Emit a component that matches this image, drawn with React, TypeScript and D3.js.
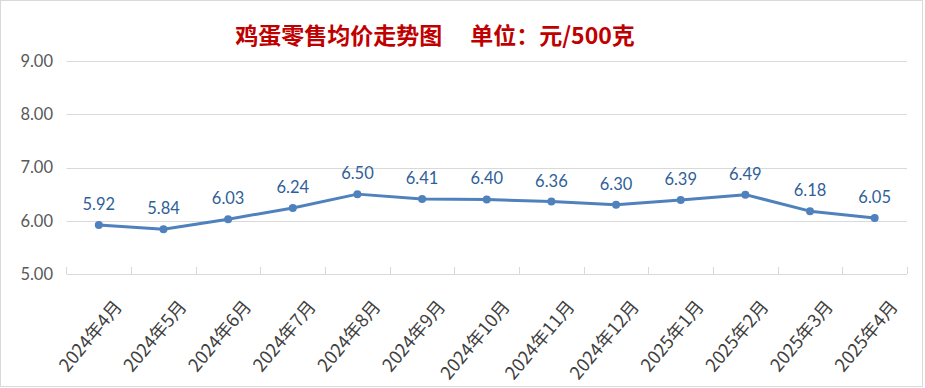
import React from "react";
import * as d3 from "d3";

const categories = [
  "2024年4月", "2024年5月", "2024年6月", "2024年7月", "2024年8月", "2024年9月",
  "2024年10月", "2024年11月", "2024年12月", "2025年1月", "2025年2月", "2025年3月", "2025年4月",
];
const prices = [5.92, 5.84, 6.03, 6.24, 6.5, 6.41, 6.4, 6.36, 6.3, 6.39, 6.49, 6.18, 6.05];
const yTicks = [5, 6, 7, 8, 9];
const title = "鸡蛋零售均价走势图";
const unitText = "单位：元/500克";

const W = 925;
const H = 388;
const plot = { left: 66.5, right: 907, top: 61, bottom: 274 };

export default function App() {
  const x = d3
    .scaleBand<string>()
    .domain(categories)
    .range([plot.left, plot.right])
    .paddingInner(0)
    .paddingOuter(0);
  const y = d3.scaleLinear().domain([5, 9]).range([plot.bottom, plot.top]);
  const cx = (c: string) => (x(c) as number) + x.bandwidth() / 2;
  const line = d3
    .line<number>()
    .x((_, i) => cx(categories[i]))
    .y((d) => y(d));
  const tickXs = categories.map((c) => x(c) as number).concat([plot.right]);
  const numFont = "Lato, 'Noto Sans', sans-serif";
  const cjkFont = "'Noto Sans CJK SC', sans-serif";

  return (
    <div style={{ position: "absolute", left: 0, top: 0 }}>
      <svg width={W} height={H} style={{ display: "block" }}>
        <rect x={0} y={0} width={W} height={H} fill="#fff" />
        <rect x={0.5} y={0.5} width={922} height={386} fill="none" stroke="#D9D9D9" strokeWidth={1} />
        <text
          x={435}
          y={44}
          textAnchor="middle"
          fill="#C00000"
          fontFamily={cjkFont}
          fontWeight={700}
          fontSize={23}
        >
          {title}
          <tspan dx={28}>{unitText}</tspan>
        </text>
        {yTicks.map((t) => (
          <g key={t}>
            <line
              x1={plot.left}
              x2={plot.right}
              y1={Math.round(y(t)) + 0.5}
              y2={Math.round(y(t)) + 0.5}
              stroke="#D9D9D9"
              strokeWidth={1}
            />
            <text
              x={53}
              y={y(t)}
              dy="0.36em"
              textAnchor="end"
              fill="#595959"
              fontFamily={numFont}
              fontSize={16.5}
            >
              {t.toFixed(2)}
            </text>
          </g>
        ))}
        {tickXs.map((tx, i) => (
          <line
            key={i}
            x1={Math.round(tx) + 0.5}
            x2={Math.round(tx) + 0.5}
            y1={plot.bottom - 7}
            y2={plot.bottom}
            stroke="#D9D9D9"
            strokeWidth={1}
          />
        ))}
        <path d={line(prices) || ""} fill="none" stroke="#4F81BD" strokeWidth={3} strokeLinejoin="round" />
        {prices.map((p, i) => (
          <circle key={i} cx={cx(categories[i])} cy={y(p)} r={4} fill="#4F81BD" />
        ))}
        {prices.map((p, i) => (
          <text
            key={"l" + i}
            x={cx(categories[i])}
            y={y(p) - 15}
            textAnchor="middle"
            fill="#2F5F98"
            fontFamily={numFont}
            fontSize={16.5}
          >
            {p.toFixed(2)}
          </text>
        ))}
        {categories.map((c) => {
          const ax = cx(c) + 18;
          const ay = 302;
          return (
            <text
              key={c}
              transform={`translate(${ax},${ay}) rotate(-50)`}
              textAnchor="end"
              dominantBaseline="central"
              fill="#404040"
              fontFamily={cjkFont}
              fontSize={18}
            >
              {c}
            </text>
          );
        })}
      </svg>
    </div>
  );
}
